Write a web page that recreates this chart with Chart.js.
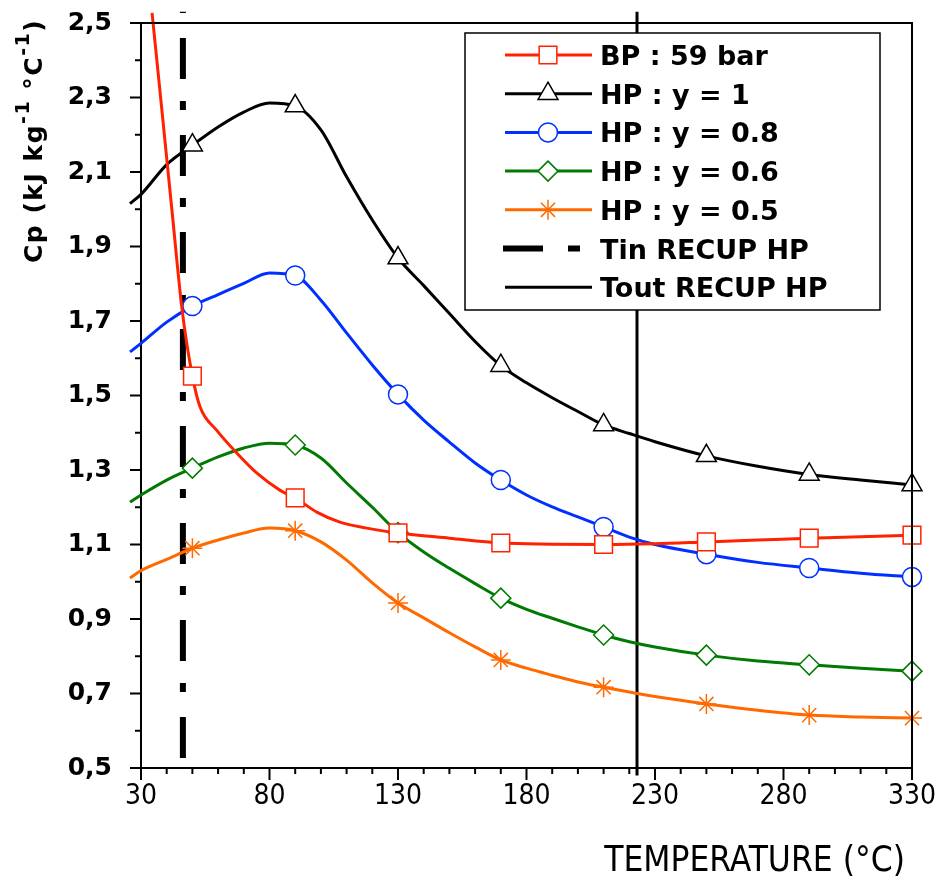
<!DOCTYPE html>
<html>
<head>
<meta charset="utf-8">
<script src="https://cdn.jsdelivr.net/npm/chart.js@4.4.1/dist/chart.umd.min.js"></script>
<style>
  html, body { margin: 0; padding: 0; background: #fff; }
  #wrap { width: 941px; height: 885px; position: relative; }
</style>
</head>
<body>
<div id="wrap"><canvas id="chart"></canvas></div>
<script>
// Values (temperature in degC, Cp in kJ/kg/degC)
const temps_hp = [25.7, 30, 40, 50, 60, 70, 80, 90, 100, 110, 120, 130, 140, 150, 160, 170, 180, 190, 200, 210, 220, 230, 250, 270, 290, 310, 330];
const cp_hp_y100 = [2.015, 2.04, 2.12, 2.172, 2.221, 2.261, 2.285, 2.277, 2.213, 2.087, 1.971, 1.869, 1.795, 1.72, 1.645, 1.58, 1.534, 1.494, 1.457, 1.421, 1.398, 1.376, 1.338, 1.31, 1.288, 1.273, 1.26];
const cp_hp_y080 = [1.617, 1.64, 1.697, 1.74, 1.771, 1.801, 1.829, 1.822, 1.756, 1.668, 1.582, 1.503, 1.434, 1.375, 1.319, 1.273, 1.233, 1.201, 1.174, 1.147, 1.12, 1.10, 1.074, 1.052, 1.037, 1.023, 1.013];
const cp_hp_y060 = [1.214, 1.233, 1.273, 1.305, 1.335, 1.359, 1.372, 1.367, 1.332, 1.265, 1.20, 1.132, 1.08, 1.036, 0.995, 0.956, 0.926, 0.902, 0.879, 0.857, 0.839, 0.825, 0.803, 0.787, 0.777, 0.768, 0.76];
const cp_hp_y050 = [1.01, 1.03, 1.06, 1.09, 1.112, 1.131, 1.144, 1.137, 1.107, 1.058, 0.997, 0.943, 0.903, 0.863, 0.825, 0.79, 0.768, 0.749, 0.731, 0.717, 0.704, 0.692, 0.672, 0.655, 0.642, 0.637, 0.634];

const temps_bp = [34.3, 38, 42, 46, 50, 53, 59.4, 67.2, 75, 84, 90, 98.4, 107.4, 117.8, 130, 150, 170, 190, 210, 230, 250, 270, 290, 310, 330];
const cp_bp = [2.527, 2.275, 2.0, 1.73, 1.552, 1.469, 1.407, 1.346, 1.292, 1.246, 1.225, 1.187, 1.16, 1.144, 1.131, 1.117, 1.104, 1.101, 1.100, 1.102, 1.107, 1.112, 1.117, 1.121, 1.125];

const marker_temps = [50, 90, 130, 170, 210, 250, 290, 330];

// Recuperator inlet / outlet temperatures (vertical lines) and their extent in Cp
const tin_temp = 46.3;
const tin_span = [0.527, 2.53];
const tout_temp = 223;
const tout_span = [0.48, 2.53];

// Axis ticks
const x_ticks = [30, 80, 130, 180, 230, 280, 330];
const x_minor = [40, 50, 60, 70, 90, 100, 110, 120, 140, 150, 160, 170, 190, 200, 210, 220, 240, 250, 260, 270, 290, 300, 310, 320];
const y_ticks = [0.5, 0.7, 0.9, 1.1, 1.3, 1.5, 1.7, 1.9, 2.1, 2.3, 2.5];
const y_minor = [0.6, 0.8, 1.0, 1.2, 1.4, 1.6, 1.8, 2.0, 2.2, 2.4];

const x_title = 'TEMPERATURE (°C)';
const y_title_parts = [
    { text: 'Cp (kJ kg' },
    { text: '-1', sup: true },
    { text: ' °C' },
    { text: '-1', sup: true },
    { text: ')' },
];

// Fonts: axis numbers in the figure are narrow, pick what is installed
function font_available(name) {
    const c = document.createElement('canvas').getContext('2d');
    const sample = 'TEMPERATURE 0123456789';
    c.font = '40px monospace';
    const w1 = c.measureText(sample).width;
    c.font = `40px "${name}", monospace`;
    return c.measureText(sample).width !== w1;
}
let axis_font;
if (font_available('Liberation Sans Narrow')) {
    axis_font = { family: '"Liberation Sans Narrow"', tick: 34, title: 39 };
} else if (font_available('DejaVu Sans Condensed')) {
    axis_font = { family: '"DejaVu Sans Condensed"', tick: 28, title: 35 };
} else {
    axis_font = { family: '"Liberation Sans", Arial, sans-serif', tick: 28, title: 32 };
}
const bold_font = '"DejaVu Sans", Verdana, sans-serif';

function to_points(xs, ys) {
    return xs.map((x, i) => ({ x: x, y: ys[i] }));
}

function curve(label, color, style, radius, xs, ys) {
    return {
        label: label,
        data: to_points(xs, ys),
        borderColor: color,
        backgroundColor: color,
        borderWidth: 3,
        cubicInterpolationMode: 'monotone',
        clip: false,
        pointStyle: style,
        pointRadius: (c) => (c.raw && marker_temps.includes(c.raw.x)) ? radius : 0,
        pointBackgroundColor: '#fff',
        pointBorderColor: color,
        pointBorderWidth: 1.5,
        legend_style: style,
        legend_radius: radius,
    };
}

const datasets = [
    curve('BP : 59 bar', '#ff2200', 'rect', 12.5, temps_bp, cp_bp),
    curve('HP : y = 1', '#000000', 'triangle', 11.5, temps_hp, cp_hp_y100),
    curve('HP : y = 0.8', '#0030ff', 'circle', 9.5, temps_hp, cp_hp_y080),
    curve('HP : y = 0.6', '#007a00', 'rectRot', 10, temps_hp, cp_hp_y060),
    curve('HP : y = 0.5', '#ff6a00', 'star', 10, temps_hp, cp_hp_y050),
    {
        label: 'Tin RECUP HP',
        data: [{ x: tin_temp, y: tin_span[0] }, { x: tin_temp, y: tin_span[1] }],
        borderColor: '#000',
        borderWidth: 6,
        borderDash: [41, 25, 9, 22],
        borderCapStyle: 'butt',
        pointRadius: 0,
        tension: 0,
        clip: false,
        order: 10,
        legend_dash: true,
    },
    {
        label: 'Tout RECUP HP',
        data: [{ x: tout_temp, y: tout_span[0] }, { x: tout_temp, y: tout_span[1] }],
        borderColor: '#000',
        borderWidth: 3,
        pointRadius: 0,
        tension: 0,
        clip: false,
        order: 10,
    },
];

// Box, tick marks and axis titles
const frame_plugin = {
    id: 'frame_plugin',
    afterDraw(chart) {
        const ctx = chart.ctx;
        const a = chart.chartArea;
        const xs = chart.scales.x;
        const ys = chart.scales.y;
        ctx.save();
        ctx.strokeStyle = '#000';
        ctx.lineWidth = 2;
        ctx.beginPath();
        ctx.moveTo(a.left, a.top);
        ctx.lineTo(a.right, a.top);
        ctx.lineTo(a.right, a.bottom);
        // ticks
        y_ticks.forEach(v => { const p = ys.getPixelForValue(v); ctx.moveTo(a.left - 11, p); ctx.lineTo(a.left, p); });
        y_minor.forEach(v => { const p = ys.getPixelForValue(v); ctx.moveTo(a.left - 6, p); ctx.lineTo(a.left, p); });
        x_ticks.forEach(v => { const p = xs.getPixelForValue(v); ctx.moveTo(p, a.bottom); ctx.lineTo(p, a.bottom + 12); });
        x_minor.forEach(v => { const p = xs.getPixelForValue(v); ctx.moveTo(p, a.bottom); ctx.lineTo(p, a.bottom + 6); });
        ctx.stroke();

        // y title with superscripts
        ctx.fillStyle = '#000';
        ctx.save();
        ctx.translate(42, 263);
        ctx.rotate(-Math.PI / 2);
        ctx.textAlign = 'left';
        ctx.textBaseline = 'alphabetic';
        if ('letterSpacing' in ctx) ctx.letterSpacing = '1.5px';
        let x = 0;
        y_title_parts.forEach(part => {
            ctx.font = part.sup ? `bold 19px ${bold_font}` : `bold 25px ${bold_font}`;
            ctx.fillText(part.text, x, part.sup ? -13 : 0);
            x += ctx.measureText(part.text).width;
        });
        ctx.restore();

        // x title
        ctx.font = `${axis_font.title}px ${axis_font.family}`;
        ctx.textAlign = 'right';
        ctx.textBaseline = 'alphabetic';
        ctx.fillText(x_title, 905, 871);
        ctx.restore();
    }
};

// Legend drawn as a boxed block inside the plot
const legend_plugin = {
    id: 'legend_plugin',
    afterDraw(chart) {
        const ctx = chart.ctx;
        ctx.save();
        ctx.fillStyle = '#fff';
        ctx.fillRect(465, 33, 415, 277);
        ctx.strokeStyle = '#000';
        ctx.lineWidth = 1.5;
        ctx.strokeRect(465, 33, 415, 277);
        chart.data.datasets.forEach((ds, i) => {
            const y = 55 + i * 38.7;
            ctx.strokeStyle = ds.borderColor;
            ctx.lineWidth = ds.borderWidth;
            ctx.setLineDash(ds.legend_dash ? [40, 25, 12, 40] : []);
            ctx.beginPath();
            ctx.moveTo(ds.legend_dash ? 503 : 505, y);
            ctx.lineTo(ds.legend_dash ? 580 : 592, y);
            ctx.stroke();
            ctx.setLineDash([]);
            if (ds.legend_style) {
                ctx.fillStyle = '#fff';
                ctx.strokeStyle = ds.borderColor;
                ctx.lineWidth = 1.5;
                Chart.helpers.drawPoint(ctx, {
                    pointStyle: ds.legend_style, radius: ds.legend_radius, rotation: 0, borderWidth: 1.5
                }, 548, y);
            }
            ctx.fillStyle = '#000';
            ctx.font = `bold 27px ${bold_font}`;
            ctx.textAlign = 'left';
            ctx.textBaseline = 'alphabetic';
            ctx.fillText(ds.label, 600, y + 10);
        });
        ctx.restore();
    }
};

const chart_canvas = document.getElementById('chart');
const chart = new Chart(chart_canvas, {
    type: 'line',
    data: { datasets: datasets },
    options: {
        animation: false,
        responsive: true,
        maintainAspectRatio: false,
        events: [],
        layout: { padding: { top: 23, right: 29, left: 0, bottom: 0 } },
        plugins: {
            legend: { display: false },
            title: { display: false },
            tooltip: { enabled: false },
        },
        scales: {
            x: {
                type: 'linear',
                min: 30,
                max: 330,
                afterBuildTicks: (s) => { s.ticks = x_ticks.map(v => ({ value: v })); },
                afterFit: (s) => { s.height = 117; s.paddingLeft = 0; s.paddingRight = 0; },
                grid: { display: false, drawTicks: false },
                border: { display: true, color: '#000', width: 2 },
                ticks: {
                    color: '#000',
                    autoSkip: false,
                    maxRotation: 0,
                    padding: 29 - 0.6 * axis_font.tick,
                    font: { family: axis_font.family, size: axis_font.tick },
                },
            },
            y: {
                type: 'linear',
                min: 0.5,
                max: 2.5,
                afterBuildTicks: (s) => { s.ticks = y_ticks.map(v => ({ value: v })); },
                afterFit: (s) => { s.width = 141; s.paddingTop = 0; s.paddingBottom = 0; },
                grid: { display: false, drawTicks: false },
                border: { display: true, color: '#000', width: 2 },
                ticks: {
                    color: '#000',
                    padding: 29,
                    font: { family: bold_font, size: 25, weight: 'bold' },
                    callback: (v) => v.toFixed(1).replace('.', ','),
                },
            },
        },
    },
    plugins: [frame_plugin, legend_plugin],
});
</script>
</body>
</html>
